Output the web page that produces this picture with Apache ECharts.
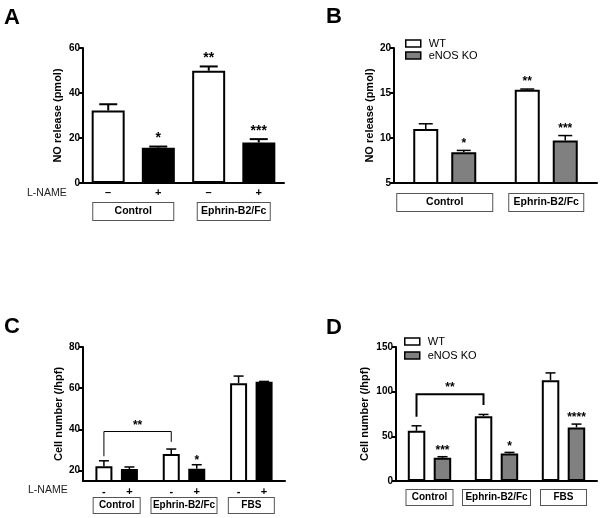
<!DOCTYPE html>
<html><head><meta charset="utf-8">
<script src="https://cdn.jsdelivr.net/npm/echarts@6/dist/echarts.min.js"></script>
<style>html,body{margin:0;padding:0;background:#fff}#c{width:601px;height:518px}</style>
</head><body><div id="c"></div>
<script>
const FONT = "'Liberation Sans', Arial, Helvetica, sans-serif";

// ---------- Panel A ----------
const catsA = ['Control', 'Ephrin-B2/Fc'];
const aLname = ['–', '+'];
const aMinus = [32.2, 49.9];
const aMinusSem = [2.8, 1.9];
const aPlus = [15.7, 18.0];
const aPlusSem = [0.5, 1.5];
const aMinusStars = ['', '**'];
const aPlusStars = ['*', '***'];
const aTicks = [0, 20, 40, 60];
const aRange = [0, 60];

// ---------- Panel B ----------
const catsB = ['Control', 'Ephrin-B2/Fc'];
const bSeries = ['WT', 'eNOS KO'];
const bWT = [11.0, 15.37];
const bWTSem = [0.58, 0.07];
const bKO = [8.42, 9.72];
const bKOSem = [0.2, 0.55];
const bWTStars = ['', '**'];
const bKOStars = ['*', '***'];
const bTicks = [5, 10, 15, 20];
const bRange = [5, 20];

// ---------- Panel C ----------
const catsC = ['Control', 'Ephrin-B2/Fc', 'FBS'];
const cLname = ['-', '+'];
const cMinus = [22.1, 28.1, 62.4];
const cMinusSem = [2.7, 2.4, 3.5];
const cPlus = [20.8, 21.0, 63.1];
const cPlusSem = [1.0, 1.9, 0.2];
const cMinusStars = ['', '', ''];
const cPlusStars = ['', '*', ''];
const cTicks = [20, 40, 60, 80];
const cRange = [15, 80];
const cBracket = [0, 1, 39, 27, 34];   // from cat, to cat, top value, left end, right end
const cBracketLabel = '**';

// ---------- Panel D ----------
const catsD = ['Control', 'Ephrin-B2/Fc', 'FBS'];
const dSeries = ['WT', 'eNOS KO'];
const dWT = [56.2, 72.6, 112.8];
const dWTSem = [5.6, 1.9, 8.2];
const dKO = [26.0, 30.9, 60.0];
const dKOSem = [1.2, 1.1, 3.7];
const dWTStars = ['', '', ''];
const dKOStars = ['***', '*', '****'];
const dTicks = [0, 50, 100, 150];
const dRange = [0, 150];
const dBracket = [0, 1, 97, 72, 85];
const dBracketLabel = '**';

// ---------- builders ----------
function yAx(gi, range, ticks, name, gap) {
  return {
    type: 'value', gridIndex: gi, min: range[0], max: range[1],
    name: name, nameLocation: 'middle', nameGap: gap,
    nameTextStyle: { fontFamily: FONT, fontWeight: 'bold', fontSize: 11, color: '#000' },
    axisLine: { show: true, lineStyle: { color: '#000', width: 2 } },
    axisTick: { show: true, length: 4, lineStyle: { color: '#000', width: 2 }, customValues: ticks },
    axisLabel: { customValues: ticks, color: '#000', fontFamily: FONT, fontWeight: 'bold', fontSize: 10, margin: 3 },
    splitLine: { show: false }
  };
}
function xAx(gi, cats, margin, boxes, fs) {
  const rich = {};
  boxes.forEach((b, i) => {
    rich['b' + i] = {
      width: b[0], height: b[1], align: 'center', verticalAlign: 'middle',
      borderColor: '#555', borderWidth: 1, backgroundColor: '#fff',
      fontFamily: FONT, fontWeight: 'bold', fontSize: fs, color: '#000'
    };
  });
  return {
    type: 'category', gridIndex: gi, data: cats,
    axisLine: { onZero: false, lineStyle: { color: '#000', width: 2 } },
    axisTick: { show: false },
    axisLabel: { interval: 0, margin: margin, formatter: (v, i) => '{b' + i + '|' + v + '}', rich: rich }
  };
}
function bars(gi, name, vals, color, barW, gap, lab, labDist) {
  return {
    type: 'bar', name: name, xAxisIndex: gi, yAxisIndex: gi, data: vals,
    barWidth: barW, barGap: gap, silent: true, clip: true,
    itemStyle: { color: color, borderColor: '#000', borderWidth: 2 },
    emphasis: { disabled: true },
    label: lab ? { show: true, position: 'bottom', distance: labDist, formatter: lab,
      color: '#000', fontFamily: FONT, fontWeight: 'bold', fontSize: 11 } : { show: false }
  };
}
function errs(gi, vals, sems, stars, offset, capW, lw, starSize, starGap) {
  return {
    type: 'custom', xAxisIndex: gi, yAxisIndex: gi, silent: true, z: 5,
    data: vals.map((v, i) => [i, v, sems[i]]),
    renderItem: function (params, api) {
      const i = api.value(0), v = api.value(1), s = api.value(2);
      const p0 = api.coord([i, v]);
      const p1 = api.coord([i, v + s]);
      const x = p0[0] + offset;
      const ch = [];
      if (s > 0) {
        ch.push({ type: 'line', shape: { x1: x, y1: p0[1], x2: x, y2: p1[1] }, style: { stroke: '#000', lineWidth: lw } });
        ch.push({ type: 'line', shape: { x1: x - capW / 2, y1: p1[1], x2: x + capW / 2, y2: p1[1] }, style: { stroke: '#000', lineWidth: lw } });
      }
      const st = stars[params.dataIndex];
      if (st) {
        ch.push({ type: 'text', x: x, y: p1[1] - starGap,
          style: { text: st, fontFamily: FONT, fontWeight: 'bold', fontSize: starSize, fill: '#000', align: 'center', verticalAlign: 'bottom' } });
      }
      return { type: 'group', children: ch };
    }
  };
}
function bracket(gi, br, label, offset, lw, fs, tGap) {
  return {
    type: 'custom', xAxisIndex: gi, yAxisIndex: gi, silent: true, z: 6,
    data: [br],
    renderItem: function (params, api) {
      const a = api.coord([api.value(0), api.value(2)]);
      const b = api.coord([api.value(1), api.value(2)]);
      const l = api.coord([api.value(0), api.value(3)]);
      const r = api.coord([api.value(1), api.value(4)]);
      const x1 = a[0] + offset, x2 = b[0] + offset;
      return { type: 'group', children: [
        { type: 'polyline', shape: { points: [[x1, l[1]], [x1, a[1]], [x2, a[1]], [x2, r[1]]] },
          style: { stroke: '#000', lineWidth: lw, fill: null } },
        { type: 'text', x: (x1 + x2) / 2, y: a[1] - tGap,
          style: { text: label, fontFamily: FONT, fontWeight: 'bold', fontSize: fs, fill: '#000', align: 'center', verticalAlign: 'bottom' } }
      ] };
    }
  };
}

const option = {
  animation: false,
  backgroundColor: '#fff',
  textStyle: { fontFamily: FONT },
  grid: [
    { left: 83, top: 48, width: 201, height: 135, containLabel: false, outerBoundsMode: 'none' },
    { left: 394, top: 48, width: 203, height: 135, containLabel: false, outerBoundsMode: 'none' },
    { left: 83, top: 347, width: 202, height: 134, containLabel: false, outerBoundsMode: 'none' },
    { left: 396, top: 347, width: 201, height: 134, containLabel: false, outerBoundsMode: 'none' }
  ],
  xAxis: [
    xAx(0, catsA, 20, [[80, 17], [72, 17]], 10.5),
    xAx(1, catsB, 11, [[95, 17], [74, 17]], 10.5),
    xAx(2, catsC, 17, [[46, 15], [65, 15], [45, 15]], 10),
    xAx(3, catsD, 9, [[46, 15], [67, 15], [45, 15]], 10)
  ],
  yAxis: [
    yAx(0, aRange, aTicks, 'NO release (pmol)', 20),
    yAx(1, bRange, bTicks, 'NO release (pmol)', 19),
    yAx(2, cRange, cTicks, 'Cell number (/hpf)', 19),
    yAx(3, dRange, dTicks, 'Cell number (/hpf)', 26)
  ],
  legend: [
    { data: bSeries, orient: 'vertical', left: 405, top: 38, padding: 0, itemWidth: 15, itemHeight: 7, itemGap: 1,
      icon: 'rect', selectedMode: false, itemStyle: { borderWidth: 1.5 },
      textStyle: { fontFamily: FONT, fontSize: 11, color: '#000', padding: [0, 0, 0, 3] } },
    { data: dSeries, orient: 'vertical', left: 404, top: 336, padding: 0, itemWidth: 15, itemHeight: 7, itemGap: 3,
      icon: 'rect', selectedMode: false, itemStyle: { borderWidth: 1.5 },
      textStyle: { fontFamily: FONT, fontSize: 11, color: '#000', padding: [0, 0, 0, 3] } }
  ],
  graphic: [
    { type: 'text', left: 4, top: 7, style: { text: 'A', fontFamily: FONT, fontWeight: 'bold', fontSize: 22, fill: '#000' } },
    { type: 'text', left: 326, top: 6, style: { text: 'B', fontFamily: FONT, fontWeight: 'bold', fontSize: 22, fill: '#000' } },
    { type: 'text', left: 4, top: 316, style: { text: 'C', fontFamily: FONT, fontWeight: 'bold', fontSize: 22, fill: '#000' } },
    { type: 'text', left: 326, top: 317, style: { text: 'D', fontFamily: FONT, fontWeight: 'bold', fontSize: 22, fill: '#000' } },
    { type: 'text', left: 27, top: 188, style: { text: 'L-NAME', fontFamily: FONT, fontSize: 10.5, fill: '#222' } },
    { type: 'text', left: 28, top: 485, style: { text: 'L-NAME', fontFamily: FONT, fontSize: 10.5, fill: '#222' } }
  ],
  series: [
    bars(0, 'A-', aMinus, '#fff', 33, '52%', (p) => aLname[0], 4),
    bars(0, 'A+', aPlus, '#000', 33, '52%', (p) => aLname[1], 4),
    errs(0, aMinus, aMinusSem, aMinusStars, -25, 18, 2, 14, 1),
    errs(0, aPlus, aPlusSem, aPlusStars, 25, 18, 2, 14, 1),

    bars(1, bSeries[0], bWT, '#fff', 25, '52%', null, 0),
    bars(1, bSeries[1], bKO, '#808080', 25, '52%', null, 0),
    errs(1, bWT, bWTSem, bWTStars, -19, 14, 1.5, 12, 1),
    errs(1, bKO, bKOSem, bKOStars, 19, 14, 1.5, 12, 1),

    bars(2, 'C-', cMinus, '#fff', 17, '50%', (p) => cLname[0], 4),
    bars(2, 'C+', cPlus, '#000', 17, '50%', (p) => cLname[1], 4),
    errs(2, cMinus, cMinusSem, cMinusStars, -12.75, 10, 1.5, 12, -2),
    errs(2, cPlus, cPlusSem, cPlusStars, 12.75, 10, 1.5, 12, -2),
    bracket(2, cBracket, cBracketLabel, -12.75, 1, 12, 0),

    bars(3, dSeries[0], dWT, '#fff', 17.5, '48%', null, 0),
    bars(3, dSeries[1], dKO, '#808080', 17.5, '48%', null, 0),
    errs(3, dWT, dWTSem, dWTStars, -13, 10, 1.5, 12, 0),
    errs(3, dKO, dKOSem, dKOStars, 13, 10, 1.5, 12, 0),
    bracket(3, dBracket, dBracketLabel, -13, 2, 12, 1)
  ]
};
const chart = echarts.init(document.getElementById('c'), null, { renderer: 'canvas' });
chart.setOption(option);
</script></body></html>
